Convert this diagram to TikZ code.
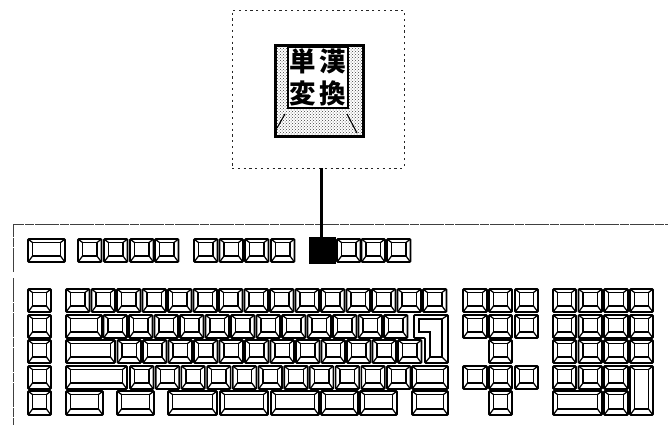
\documentclass[tikz,border=0pt]{standalone}
\usepackage{fontspec}
\newfontfamily\cjk{Noto Sans CJK JP}
\usetikzlibrary{patterns}
\tikzset{
  keyout/.style={draw=black,line width=1.6pt,inner sep=0pt,outer sep=0pt,rounded corners=0.8pt,fill=white},
  keyin/.style={draw=black,line width=1.25pt},
  frameline/.style={draw=black!75,line width=0.8pt,dash pattern=on 24pt off 1pt on 9pt off 1pt},
  calloutbox/.style={draw=black!85,line width=0.8pt,dash pattern=on 2.2pt off 3.6pt,inner sep=0pt,minimum width=172pt,minimum height=158pt},
  bigkey/.style={draw=black,line width=3pt,inner sep=0pt,pattern=crosshatch dots,pattern color=black!75,minimum width=88pt,minimum height=90pt},
  capface/.style={draw=black,line width=1.1pt,fill=white,inner sep=0pt,minimum width=60pt,minimum height=61pt},
  glyph/.style={font=\cjk\bfseries\fontsize{26.5}{26.5}\selectfont,inner sep=0pt,text=black},
  bevelline/.style={draw=black,line width=1.1pt},
  link/.style={draw=black,line width=2.8pt}
}
\newcommand{\kbkey}[5]{%
  \pgfmathsetmacro{\kbw}{#4-#2}\pgfmathsetmacro{\kbh}{#5-#3}%
  \node[keyout,minimum width=\kbw pt,minimum height=\kbh pt,anchor=north west] (#1) at (#2,#3) {};
  \draw[keyin] (#2+4.5,#3+3.5) rectangle (#4-4.5,#5-6);
  \draw[keyin] (#2+0.5,#3+0.5) -- (#2+4.5,#3+3.5) (#4-0.5,#3+0.5) -- (#4-4.5,#3+3.5)
               (#2+0.5,#5-0.5) -- (#2+4.5,#5-6) (#4-0.5,#5-0.5) -- (#4-4.5,#5-6);
}
\begin{document}
\begin{tikzpicture}[x=1pt,y=-1pt]
\useasboundingbox (0,0) rectangle (668,425);
% frame
\coordinate (fa) at (13,272);
\coordinate (fb) at (13,224);
\coordinate (fc) at (668,224);
\coordinate (fd) at (13,278);
\coordinate (fe) at (13,425);
\draw[frameline] (fa) -- (fb) -- (fc);
\draw[frameline] (fd) -- (fe);
% callout
\node[calloutbox] (callout) at (318,89) {};
\node[bigkey] (cap) at (319,91) {};
\node[capface] (face) at (318,77.5) {};
\draw[bevelline] (285,114) -- (277,128) (347,114) -- (357,133);
\node[glyph] (g1) at (303,61) {単};
\node[glyph] (g2) at (333,61) {漢};
\node[glyph] (g3) at (303,93) {変};
\node[glyph] (g4) at (333,93) {換};
% function row
\kbkey{esc}{28}{239}{65}{262}
\foreach \i/\x in {1/78,2/104,3/130,4/155,5/194,6/219.5,7/245,8/271,10/337,11/361.5,12/387}{
  \pgfmathsetmacro{\xe}{\x+23.5}
  \kbkey{f\i}{\x}{239}{\xe}{262}
}
\node[draw=black,fill=black,inner sep=0pt,minimum width=26pt,minimum height=26pt,anchor=north west] (f9) at (308.5,237) {};
\draw[link] (f9.north) -- (f9.north |- callout.south);
% left column
\foreach \r/\y/\ye in {1/289/312,2/315/338,3/340/363,4/366/389,5/391/415}{
  \kbkey{l\r}{28}{\y}{51}{\ye}
}
% row 1
\foreach \c in {0,...,14}{
  \pgfmathsetmacro{\xa}{66+\c*25.5}\pgfmathsetmacro{\xe}{\xa+23.5}
  \kbkey{a\c}{\xa}{289}{\xe}{312}
}
% row 2
\kbkey{tab}{66}{315}{102}{338}
\foreach \c in {0,...,11}{
  \pgfmathsetmacro{\xa}{103.5+\c*25.5}\pgfmathsetmacro{\xe}{\xa+23.5}
  \kbkey{b\c}{\xa}{315}{\xe}{338}
}
% enter
\draw[keyout] (414,315) -- (448,315) -- (448,363) -- (425,363) -- (425,338) -- (414,338) -- cycle;
\draw[keyin] (419,319) -- (442,319) -- (442,357) -- (430,357) -- (430,332) -- (419,332) -- cycle;
\draw[keyin] (448,315) -- (442,319) (448,363) -- (442,357) (425,363) -- (430,357);
% row 3
\kbkey{caps}{66}{340}{115}{363}
\foreach \c in {0,...,11}{
  \pgfmathsetmacro{\xa}{117.5+\c*25.5}\pgfmathsetmacro{\xe}{\xa+23.5}
  \kbkey{c\c}{\xa}{340}{\xe}{363}
}
% row 4
\kbkey{lsh}{66}{366}{127}{389}
\foreach \c in {0,...,10}{
  \pgfmathsetmacro{\xa}{130+\c*25.7}\pgfmathsetmacro{\xe}{\xa+23.5}
  \kbkey{d\c}{\xa}{366}{\xe}{389}
}
\kbkey{rsh}{412}{366}{448}{389}
% row 5
\foreach \i/\x/\xe in {1/66/103,2/117/154,3/168/217,4/220/268,5/271/319,6/321/358,7/360/397,8/412/448}{
  \kbkey{e\i}{\x}{391}{\xe}{415}
}
% navigation block
\foreach \x/\xe [count=\i] in {463/487,489/512,515/538}{
  \kbkey{na\i}{\x}{289}{\xe}{312}
  \kbkey{nb\i}{\x}{315}{\xe}{338}
  \kbkey{nd\i}{\x}{366}{\xe}{389}
}
\kbkey{nc}{489}{340}{512}{363}
\kbkey{ne}{489}{391}{512}{415}
% numeric pad
\foreach \x/\xe [count=\i] in {553/576,578.5/602,604/628}{
  \kbkey{pa\i}{\x}{289}{\xe}{312}
  \kbkey{pb\i}{\x}{315}{\xe}{338}
  \kbkey{pc\i}{\x}{340}{\xe}{363}
  \kbkey{pd\i}{\x}{366}{\xe}{389}
}
\kbkey{pa4}{630}{289}{653}{312}
\kbkey{pb4}{630}{315}{653}{338}
\kbkey{pc4}{630}{340}{653}{363}
\kbkey{plus}{630}{366}{653}{415}
\kbkey{zero}{553}{391}{602}{415}
\kbkey{dot}{604}{391}{628}{415}
\end{tikzpicture}
\end{document}
